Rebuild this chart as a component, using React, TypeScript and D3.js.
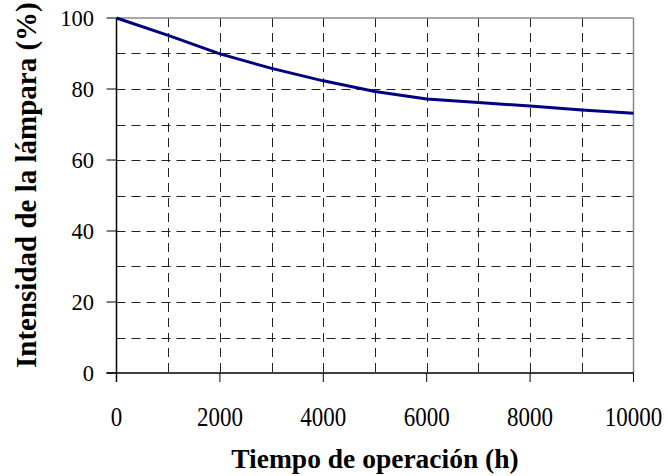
import React from "react";
import * as d3 from "d3";

const hours = [0, 1000, 2000, 3000, 4000, 5000, 6000, 7000, 8000, 9000, 10000];
const intensity = [100, 95.1, 89.9, 85.8, 82.3, 79.3, 77.2, 76.2, 75.2, 74.1, 73.2];
const xTicks = [0, 2000, 4000, 6000, 8000, 10000];
const xGrid = [1000, 2000, 3000, 4000, 5000, 6000, 7000, 8000, 9000];
const yTicks = [0, 20, 40, 60, 80, 100];
const yGrid = [10, 20, 30, 40, 50, 60, 70, 80, 90];
const xTitle = "Tiempo de operación (h)";
const yTitle = "Intensidad de la lámpara (%)";

const W = 668;
const H = 476;
const L = 116.5;
const R = 633.5;
const T = 18;
const B = 373;
const FONT = "'Liberation Serif', 'Times New Roman', serif";

export default function App() {
  const x = d3.scaleLinear().domain([0, 10000]).range([L, R]);
  const y = d3.scaleLinear().domain([0, 100]).range([B, T]);
  const line = d3
    .line<number>()
    .x((_, i) => x(hours[i]))
    .y((d) => y(d));

  return (
    <svg
      width={W}
      height={H}
      style={{ position: "absolute", left: 0, top: 0, background: "#fff" }}
      fontFamily={FONT}
    >
      <rect x={0} y={0} width={W} height={H} fill="#fff" />
      {/* grid */}
      {yGrid.map((v) => (
        <line
          key={"hy" + v}
          x1={L}
          x2={R}
          y1={Math.round(y(v)) + 0.5}
          y2={Math.round(y(v)) + 0.5}
          stroke="#222"
          strokeWidth={1}
          strokeDasharray="9,6"
        />
      ))}
      {xGrid.map((v) => (
        <line
          key={"vx" + v}
          x1={Math.round(x(v)) + 0.5}
          x2={Math.round(x(v)) + 0.5}
          y1={T}
          y2={B}
          stroke="#222"
          strokeWidth={1}
          strokeDasharray="9,6"
        />
      ))}
      {/* top/right border */}
      <line x1={L} x2={R} y1={T} y2={T} stroke="#888" strokeWidth={1.5} />
      <line x1={R} x2={R} y1={T} y2={B} stroke="#888" strokeWidth={1.5} />
      {/* axes */}
      <line x1={L} x2={L} y1={T} y2={B + 9} stroke="#000" strokeWidth={1.5} />
      <line x1={L - 10} x2={R} y1={B} y2={B} stroke="#000" strokeWidth={1.5} />
      {yTicks.map((v) => (
        <g key={"yt" + v}>
          <line x1={L - 10} x2={L} y1={y(v)} y2={y(v)} stroke="#000" strokeWidth={1} />
          <text x={94} y={y(v) + 7.5} textAnchor="end" fontSize={22.5} fill="#000">
            {v}
          </text>
        </g>
      ))}
      {xTicks.map((v) => (
        <g key={"xt" + v}>
          <line x1={x(v)} x2={x(v)} y1={B} y2={B + 9} stroke="#000" strokeWidth={1} />
          <text
            transform={`translate(${x(v)},426) scale(0.92,1.08)`}
            textAnchor="middle"
            fontSize={25}
            fill="#000"
          >
            {v}
          </text>
        </g>
      ))}
      {/* data line */}
      <path
        d={line(intensity) || ""}
        fill="none"
        stroke="#000080"
        strokeWidth={3}
        strokeLinejoin="round"
      />
      {/* titles */}
      <text
        x={(L + R) / 2}
        y={468}
        textAnchor="middle"
        fontSize={27.5}
        fontWeight="bold"
        fill="#000"
      >
        {xTitle}
      </text>
      <text
        transform={`translate(36,368) rotate(-90)`}
        textAnchor="start"
        fontSize={29}
        fontWeight="bold"
        fill="#000"
      >
        {yTitle}
      </text>
    </svg>
  );
}
